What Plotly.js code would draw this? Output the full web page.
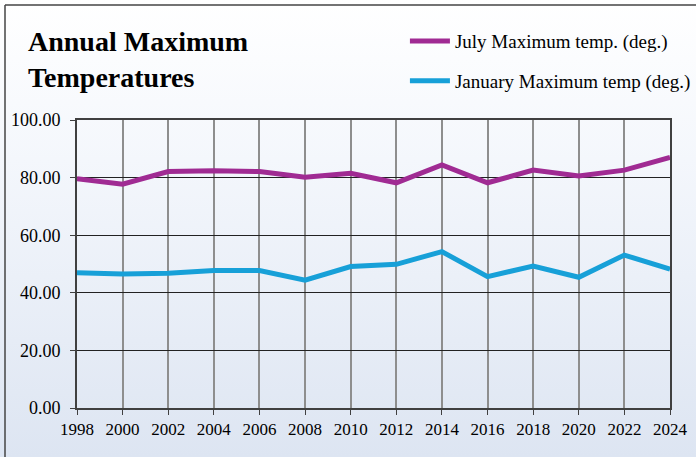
<!DOCTYPE html>
<html>
<head>
<meta charset="utf-8">
<script src="https://cdn.plot.ly/plotly-3.0.1.min.js"></script>
<style>
  html, body { margin: 0; padding: 0; }
  body { width: 696px; height: 457px; overflow: hidden;
         background: linear-gradient(to bottom, #ffffff 0%, #f4f7fc 35%, #dde5f2 100%); }
  #chart { width: 696px; height: 457px; }
</style>
</head>
<body>
<div id="chart"></div>
<script>
const years = [1998, 2000, 2002, 2004, 2006, 2008, 2010, 2012, 2014, 2016, 2018, 2020, 2022, 2024];
const julyMax = [79.6, 77.7, 82.1, 82.4, 82.1, 80.1, 81.5, 78.2, 84.4, 78.2, 82.6, 80.6, 82.6, 87.0];
const janMax  = [47.0, 46.5, 46.8, 47.7, 47.7, 44.4, 49.1, 49.9, 54.3, 45.6, 49.3, 45.4, 53.1, 48.2];
const seriesNames = ["July Maximum temp. (deg.)", "January Maximum temp (deg.)"];
const chartTitle = "Annual Maximum<br>Temperatures";

const serif = "Liberation Serif, Times New Roman, serif";

const traces = [
  { x: years, y: julyMax, name: seriesNames[0], type: "scatter", mode: "lines",
    line: { color: "#a02b93", width: 5 }, legendgroup: "a" },
  { x: years, y: janMax, name: seriesNames[1], type: "scatter", mode: "lines",
    line: { color: "#17a0d8", width: 5 }, legendgroup: "b" }
];

const layout = {
  width: 696, height: 457,
  margin: { l: 77, r: 26, t: 120, b: 49, pad: 0, autoexpand: false },
  paper_bgcolor: "rgba(0,0,0,0)",
  plot_bgcolor: "rgba(0,0,0,0)",
  font: { family: serif, color: "#000", size: 17 },
  title: {
    text: chartTitle,
    font: { family: serif, size: 28, color: "#000", weight: "bold" },
    x: 28 / 696, xanchor: "left", xref: "container",
    y: 1 - 51 / 457, yanchor: "top", yref: "container",
    automargin: false
  },
  showlegend: true,
  legend: {
    x: 0.553, xanchor: "left", y: 1.34, yanchor: "top",
    bgcolor: "rgba(0,0,0,0)",
    font: { family: serif, size: 19, color: "#000" },
    traceorder: "grouped", tracegroupgap: 12,
    itemwidth: 40
  },
  xaxis: {
    range: [1998, 2024], dtick: 2, tick0: 1998, tickformat: "d",
    showgrid: true, gridcolor: "#8e8e8e", gridwidth: 2,
    showline: true, linecolor: "#404040", linewidth: 2, mirror: true,
    ticks: "outside", ticklen: 5, tickcolor: "#404040", tickwidth: 1,
    zeroline: false, automargin: false,
    tickfont: { family: serif, size: 17, color: "#000" }
  },
  yaxis: {
    range: [0, 100], dtick: 20, tick0: 0, tickformat: ".2f",
    showgrid: true, gridcolor: "#222", gridwidth: 1,
    showline: true, linecolor: "#404040", linewidth: 2, mirror: true,
    ticks: "outside", ticklen: 5, tickcolor: "#404040", tickwidth: 1,
    zeroline: false, ticklabelstandoff: 6, automargin: false,
    tickfont: { family: serif, size: 18, color: "#000" }
  },
  shapes: [
    { type: "line", xref: "paper", yref: "paper",
      x0: (5 - 77) / 593, x1: (5 - 77) / 593, y0: (408 - 460) / 288, y1: (408 - 5) / 288,
      line: { color: "#444", width: 1.5 } },
    { type: "line", xref: "paper", yref: "paper",
      x0: (5 - 77) / 593, x1: (700 - 77) / 593, y0: (408 - 5) / 288, y1: (408 - 5) / 288,
      line: { color: "#444", width: 1.5 } }
  ]
};

Plotly.newPlot("chart", traces, layout, { displayModeBar: false, staticPlot: true });
</script>
</body>
</html>
